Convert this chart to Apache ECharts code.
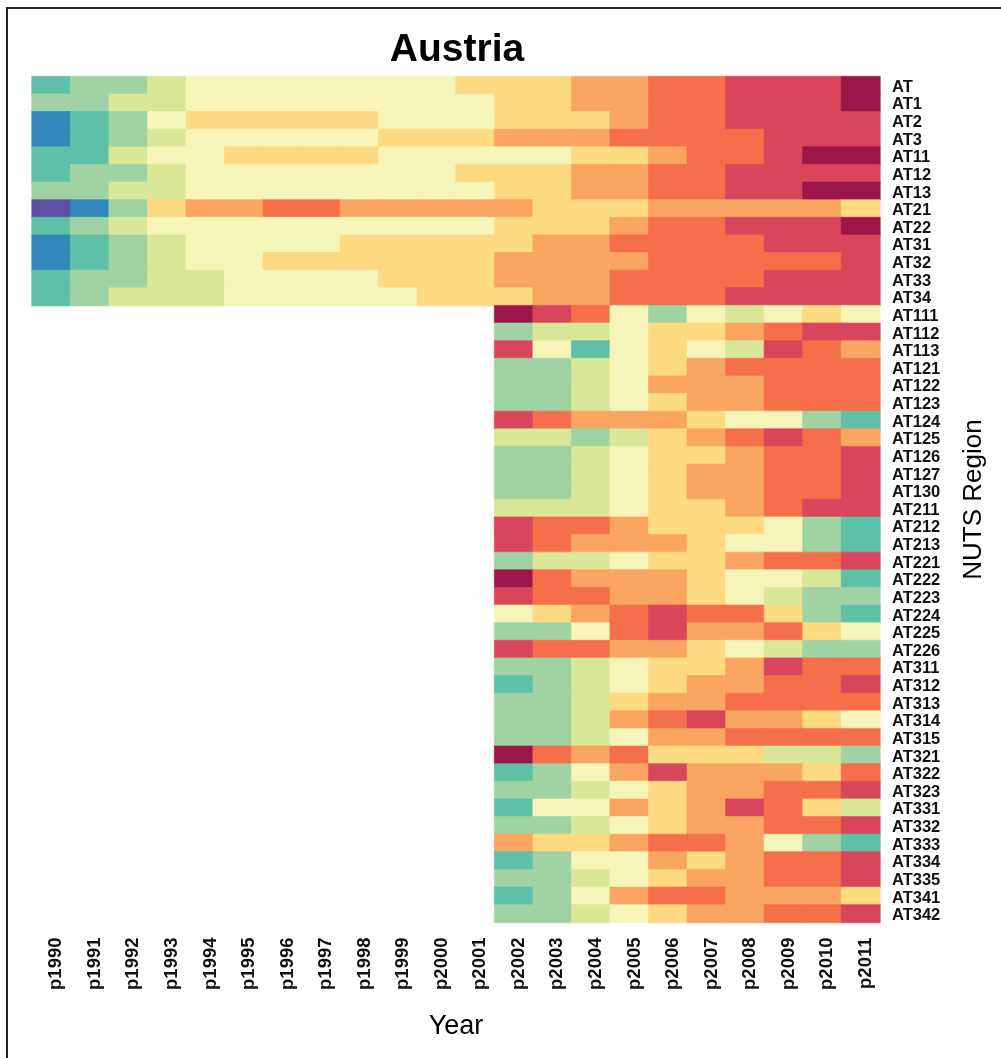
<!DOCTYPE html>
<html><head><meta charset="utf-8">
<style>html,body{margin:0;padding:0;background:#fff}#c{width:1001px;height:1058px}</style>
<script src="https://cdn.jsdelivr.net/npm/echarts@6/dist/echarts.min.js"></script>
</head><body><div id="c"></div>
<script>
const years = ['p1990','p1991','p1992','p1993','p1994','p1995','p1996','p1997','p1998','p1999','p2000','p2001','p2002','p2003','p2004','p2005','p2006','p2007','p2008','p2009','p2010','p2011'];
const regionsUpper = ['AT','AT1','AT2','AT3','AT11','AT12','AT13','AT21','AT22','AT31','AT32','AT33','AT34'];
const regionsLower = ['AT111','AT112','AT113','AT121','AT122','AT123','AT124','AT125','AT126','AT127','AT130','AT211','AT212','AT213','AT221','AT222','AT223','AT224','AT225','AT226','AT311','AT312','AT313','AT314','AT315','AT321','AT322','AT323','AT331','AT332','AT333','AT334','AT335','AT341','AT342'];
const levelColors = ['#5E4FA2','#3288BD','#5FC0A8','#9FD3A3','#D9E797','#F6F5B9','#FEDA83','#FAA561','#F46F4A','#D9465B','#9C1649'];
// full series, 1990-2011
const upperValues = [
[2,3,3,4,5,5,5,5,5,5,5,6,6,6,7,7,8,8,9,9,9,10],
[3,3,4,4,5,5,5,5,5,5,5,5,6,6,7,7,8,8,9,9,9,10],
[1,2,3,5,6,6,6,6,6,5,5,5,6,6,6,7,8,8,9,9,9,9],
[1,2,3,4,5,5,5,5,5,6,6,6,7,7,7,8,8,8,8,9,9,9],
[2,2,4,5,5,6,6,6,6,5,5,5,5,5,6,6,7,8,8,9,10,10],
[2,3,3,4,5,5,5,5,5,5,5,6,6,6,7,7,8,8,9,9,9,9],
[3,3,4,4,5,5,5,5,5,5,5,5,6,6,7,7,8,8,9,9,10,10],
[0,1,3,6,7,7,8,8,7,7,7,7,7,6,6,6,7,7,7,7,7,6],
[2,3,4,5,5,5,5,5,5,5,5,5,6,6,6,7,8,8,9,9,9,10],
[1,2,3,4,5,5,5,5,6,6,6,6,6,7,7,8,8,8,8,9,9,9],
[1,2,3,4,5,5,6,6,6,6,6,6,7,7,7,7,8,8,8,8,8,9],
[2,3,3,4,4,5,5,5,5,6,6,6,7,7,7,8,8,8,8,9,9,9],
[2,3,4,4,4,5,5,5,5,5,6,6,6,7,7,8,8,8,9,9,9,9]
];
// series available only for 2002-2011
const lowerValues = [
[10,9,8,5,3,5,4,5,6,5],
[3,4,4,5,6,6,7,8,9,9],
[9,5,2,5,6,5,4,9,8,7],
[3,3,4,5,6,7,8,8,8,8],
[3,3,4,5,7,7,7,8,8,8],
[3,3,4,5,6,7,7,8,8,8],
[9,8,7,7,7,6,5,5,3,2],
[4,4,3,4,6,7,8,9,8,7],
[3,3,4,5,6,6,7,8,8,9],
[3,3,4,5,6,7,7,8,8,9],
[3,3,4,5,6,7,7,8,8,9],
[4,4,4,5,6,6,7,8,9,9],
[9,8,8,7,6,6,6,5,3,2],
[9,8,7,7,7,6,5,5,3,2],
[3,4,4,5,6,6,7,8,8,9],
[10,8,7,7,7,6,5,5,4,2],
[9,8,8,7,7,6,5,4,3,3],
[5,6,7,8,9,8,8,6,3,2],
[3,3,5,8,9,7,7,8,6,5],
[9,8,8,7,7,6,5,4,3,3],
[3,3,4,5,6,6,7,9,8,8],
[2,3,4,5,6,7,7,8,8,9],
[3,3,4,6,7,7,8,8,8,8],
[3,3,4,7,8,9,7,7,6,5],
[3,3,4,5,7,7,8,8,8,8],
[10,8,7,8,6,6,6,4,4,3],
[2,3,5,7,9,7,7,7,6,8],
[3,3,4,5,6,7,7,8,8,9],
[2,5,5,7,6,7,9,8,6,4],
[3,3,4,5,6,7,7,8,8,9],
[7,6,6,7,8,8,7,5,3,2],
[2,3,5,5,7,6,7,8,8,9],
[3,3,4,5,6,7,7,8,8,9],
[2,3,5,7,8,8,7,7,7,6],
[3,3,4,5,6,7,7,8,8,9]
];
const lowerStart = years.indexOf('p2002');
const regions = regionsUpper.concat(regionsLower);
const cell = (c, r, v) => ({value:[c, r, v], itemStyle:{borderColor:levelColors[v], borderWidth:0.6}});
const cells = [];
upperValues.forEach((row, r) => row.forEach((v, c) => cells.push(cell(c, r, v))));
lowerValues.forEach((row, r) => row.forEach((v, c) => cells.push(cell(c + lowerStart, r + regionsUpper.length, v))));

const chart = echarts.init(document.getElementById('c'), null, {renderer:'canvas'});
const font = 'Liberation Sans';
chart.setOption({
  animation:false,
  backgroundColor:'#fff',
  title:{text:'Austria',left:452,top:26,textAlign:'center',
    textStyle:{fontFamily:font,fontWeight:'bold',fontSize:39,color:'#000'}},
  grid:{left:32,top:76.5,width:848,height:846,outerBoundsMode:'none'},
  xAxis:{type:'category',data:years,position:'bottom',
    axisLine:{show:false},axisTick:{show:false},splitLine:{show:false},
    axisLabel:{rotate:90,interval:0,margin:15,verticalAlign:'top',lineHeight:10,fontFamily:font,fontWeight:'bold',fontSize:18.5,color:'#111'},
    name:'Year',nameLocation:'middle',nameGap:91,
    nameTextStyle:{fontFamily:font,fontSize:27,color:'#000'}},
  yAxis:{type:'category',data:regions,inverse:true,position:'right',
    axisLine:{show:false},axisTick:{show:false},splitLine:{show:false},
    axisLabel:{interval:0,margin:12,verticalAlign:'top',lineHeight:4,align:'left',fontFamily:font,fontWeight:'bold',fontSize:16.5,color:'#111'},
    name:'NUTS Region',nameLocation:'middle',nameRotate:90,nameGap:81,
    nameTextStyle:{fontFamily:font,fontSize:26,color:'#000'}},
  visualMap:{show:false,type:'piecewise',dimension:2,seriesIndex:0,
    pieces:levelColors.map((color,value)=>({value,color}))},
  series:[{type:'heatmap',data:cells,emphasis:{disabled:true}}],
  graphic:[{type:'rect',silent:true,z:-1,
    shape:{x:7,y:8,width:1040,height:1100},
    style:{fill:'none',stroke:'#222',lineWidth:2}}]
});
</script></body></html>
